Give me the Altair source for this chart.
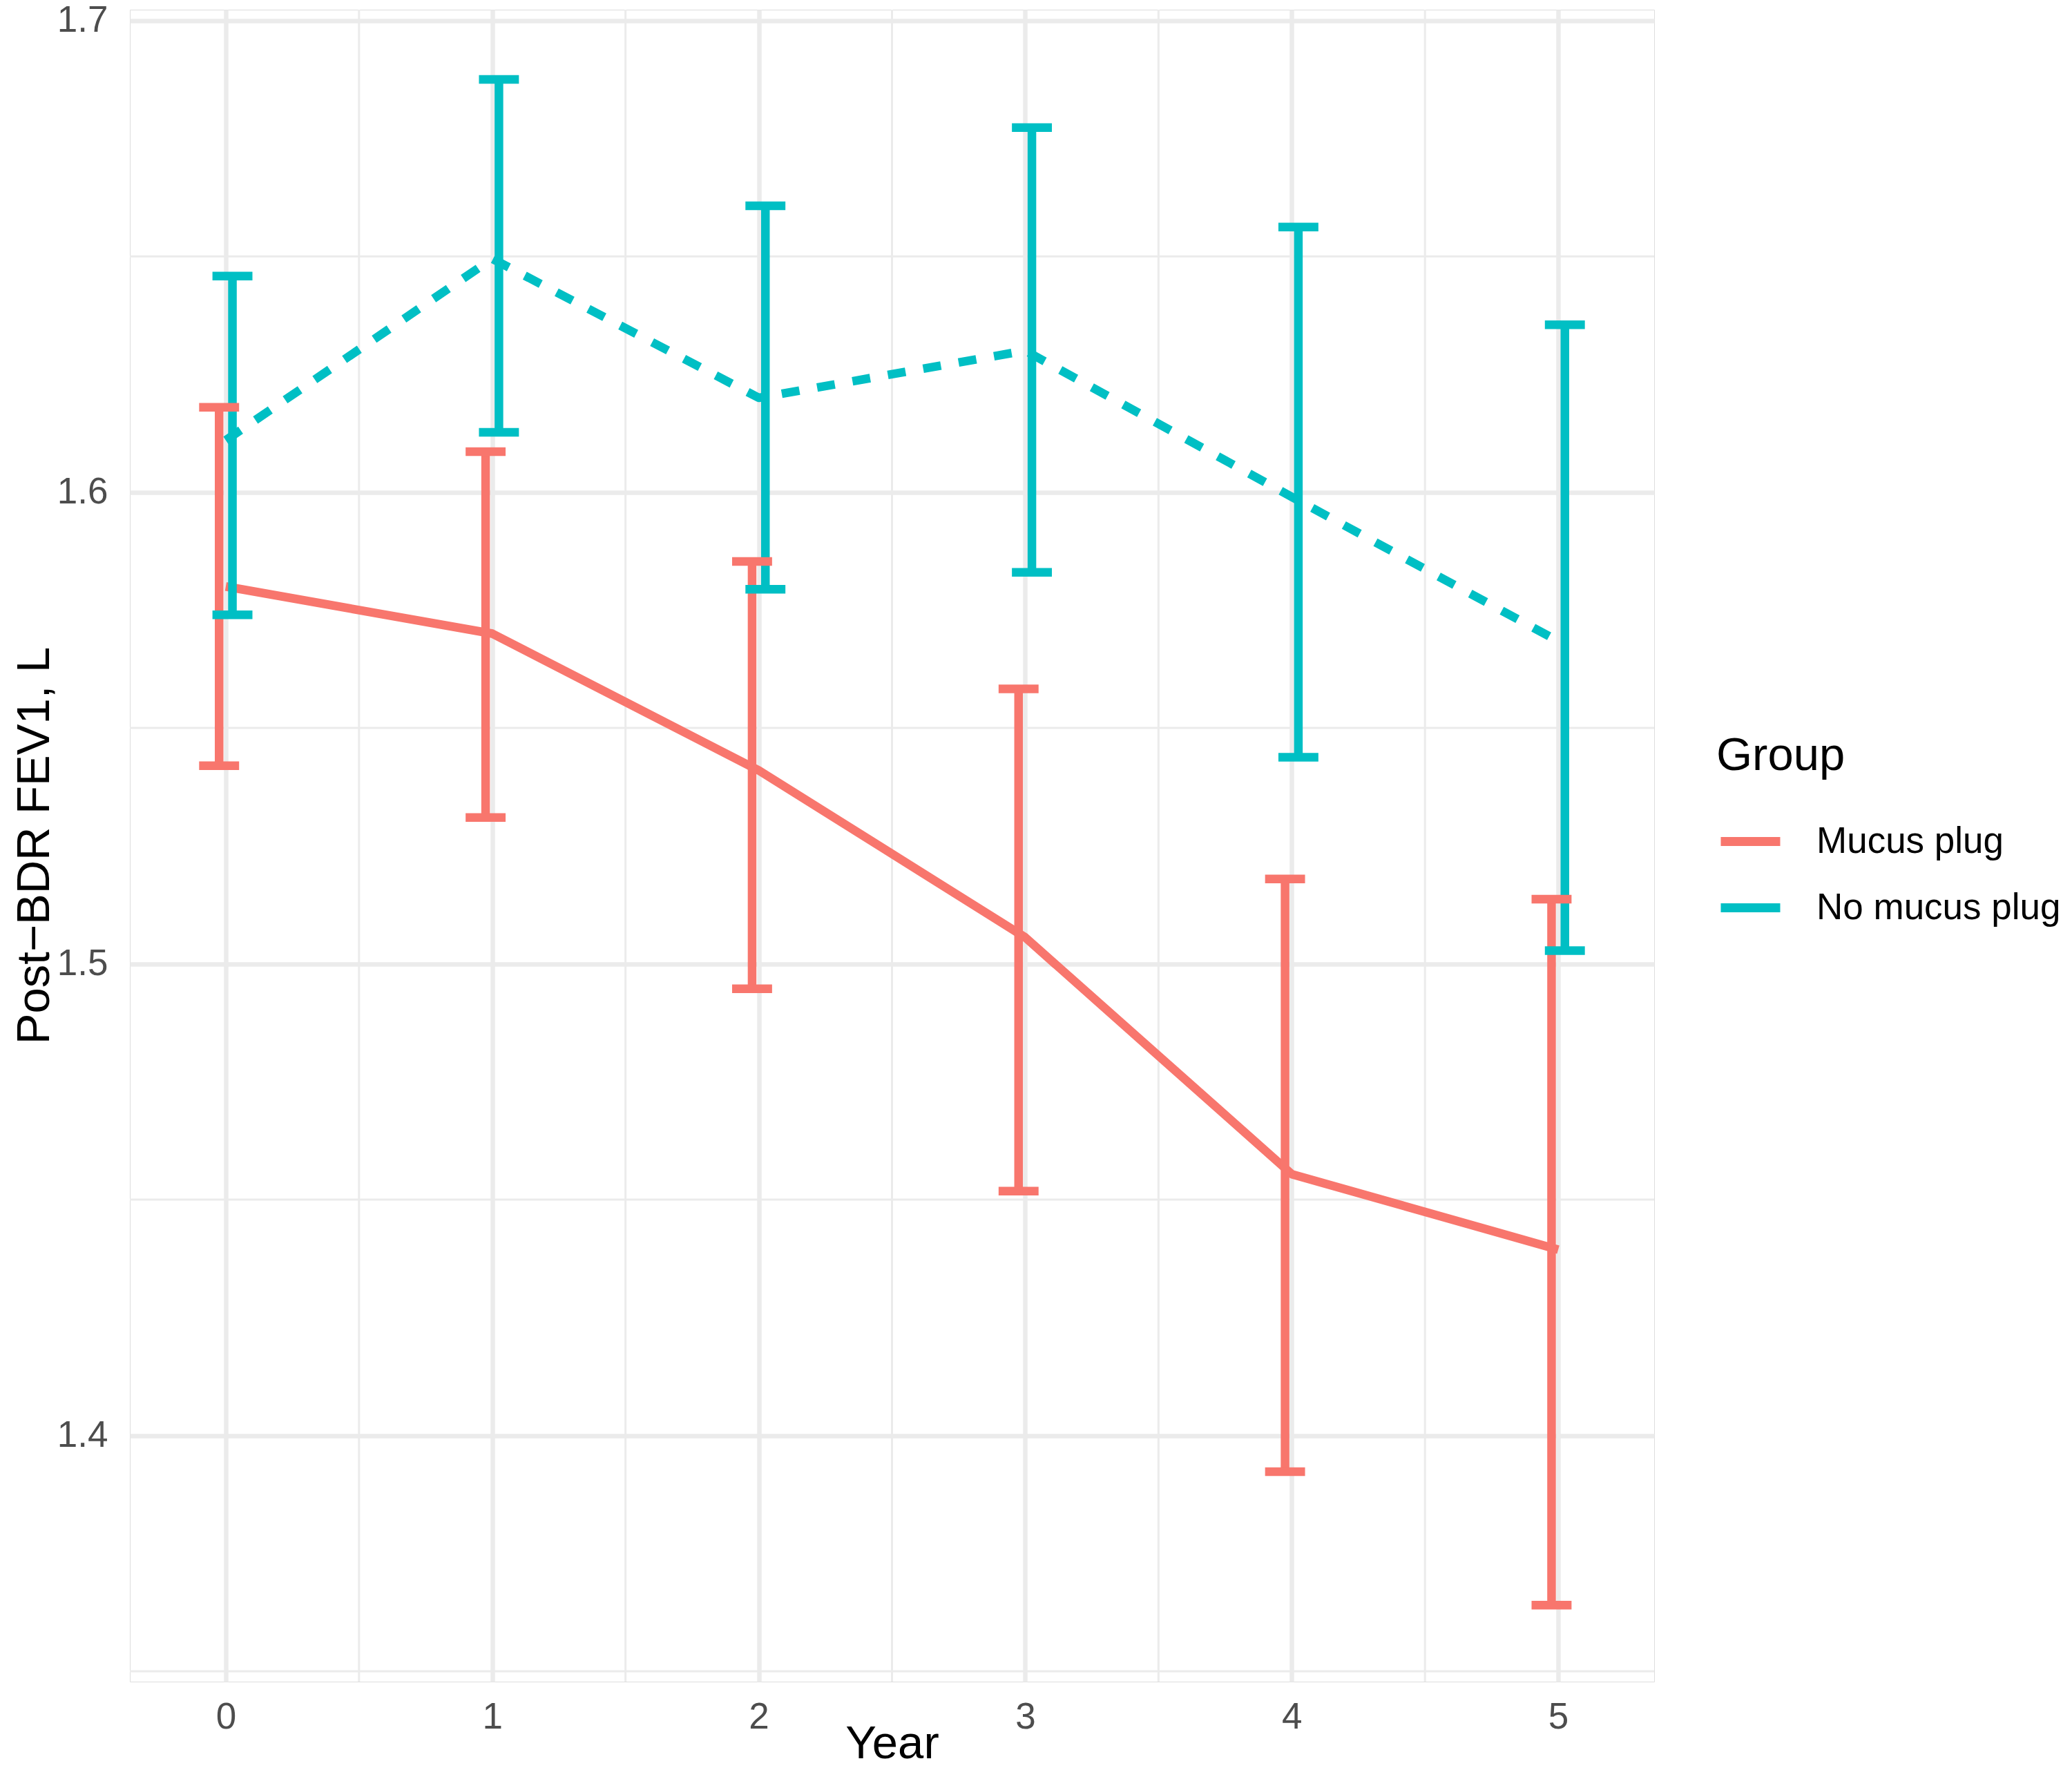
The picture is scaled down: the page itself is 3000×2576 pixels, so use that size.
import pandas as pd
import altair as alt

years = [0, 1, 2, 3, 4, 5]
groups = ["Mucus plug", "No mucus plug"]

mucus_mean = [1.580, 1.570, 1.541, 1.5056, 1.4554, 1.4394]
mucus_lo = [1.542, 1.531, 1.4947, 1.4518, 1.3923, 1.364]
mucus_hi = [1.618, 1.6086, 1.5853, 1.5583, 1.518, 1.5137]

nomucus_mean = [1.611, 1.6495, 1.620, 1.630, 1.599, 1.5684]
nomucus_lo = [1.574, 1.6127, 1.5794, 1.583, 1.5438, 1.5028]
nomucus_hi = [1.6458, 1.6875, 1.6607, 1.6773, 1.6562, 1.6355]

x_minor = [0.5, 1.5, 2.5, 3.5, 4.5]
y_minor = [1.35, 1.45, 1.55, 1.65]
y_ticks = [1.4, 1.5, 1.6, 1.7]

df = pd.concat([
    pd.DataFrame({"group": groups[0], "year": years, "mean": mucus_mean,
                  "lo": mucus_lo, "hi": mucus_hi}),
    pd.DataFrame({"group": groups[1], "year": years, "mean": nomucus_mean,
                  "lo": nomucus_lo, "hi": nomucus_hi}),
], ignore_index=True)

FONT = "Liberation Sans"
GRID = "#EBEBEB"
LW = 12.5

xscale = alt.Scale(domain=[-0.36, 5.36], nice=False, zero=False)
yscale = alt.Scale(domain=[1.3478, 1.7023], nice=False, zero=False)
cscale = alt.Scale(domain=groups, range=["#F8766D", "#00BFC4"])

# legend keys are plain solid strokes (linetype has no guide in the original)
color = alt.Color(
    "group:N",
    scale=cscale,
    legend=alt.Legend(
        title="Group", orient="none", legendX=2297, legendY=1048,
        titleFontSize=67, titleColor="black", titleFont=FONT,
        titleFontWeight="normal", titlePadding=40, titleLimit=2000,
        labelFontSize=53, labelColor="black", labelFont=FONT,
        labelLimit=2000, labelOffset=46, symbolType="stroke",
        symbolSize=7396, symbolStrokeWidth=13, symbolDash=[1, 0],
        rowPadding=19, padding=0,
    ),
)

x_axis = alt.Axis(
    values=years, format="d", title="Year", labelFontSize=53,
    labelColor="#4D4D4D", labelFont=FONT, labelPadding=25,
    ticks=False, tickSize=0, domain=False, grid=True,
    gridColor=GRID, gridWidth=6.5,
    titleFontSize=67, titleColor="black", titleFont=FONT,
    titleFontWeight="normal", titleBaseline="alphabetic", titleY=110,
)
y_axis = alt.Axis(
    values=y_ticks, format=".1f", title="Post\u2212BDR FEV1, L",
    labelFontSize=53, labelColor="#4D4D4D", labelFont=FONT,
    labelPadding=32, ticks=False, tickSize=0, domain=False, grid=True,
    gridColor=GRID, gridWidth=6.5,
    titleFontSize=67, titleColor="black", titleFont=FONT,
    titleFontWeight="normal", titleAngle=270, titleBaseline="alphabetic",
    titleAlign="center", titleX=-118, titleY=1210,
)

minor_v = alt.Chart(pd.DataFrame({"x": x_minor})).mark_rule(
    color=GRID, strokeWidth=3
).encode(x=alt.X("x:Q", scale=xscale, axis=x_axis))

minor_h = alt.Chart(pd.DataFrame({"y": y_minor})).mark_rule(
    color=GRID, strokeWidth=3
).encode(y=alt.Y("y:Q", scale=yscale, axis=y_axis))

base = alt.Chart(df)

line_enc = dict(
    x=alt.X("year:Q", scale=xscale, axis=x_axis),
    y=alt.Y("mean:Q", scale=yscale, axis=y_axis),
    color=color,
)
line_solid = base.transform_filter(
    alt.datum.group == groups[0]
).mark_line(strokeWidth=LW, strokeCap="butt", strokeJoin="round").encode(**line_enc)
line_dashed = base.transform_filter(
    alt.datum.group == groups[1]
).mark_line(strokeWidth=LW, strokeCap="butt", strokeJoin="round",
            strokeDash=[26, 26]).encode(**line_enc)

bars = base.transform_calculate(
    xd="datum.year + (datum.group == 'Mucus plug' ? -0.025 : 0.025)"
).transform_calculate(
    xl="datum.xd - 0.075", xr="datum.xd + 0.075"
)

stems = bars.mark_rule(strokeWidth=LW).encode(
    x=alt.X("xd:Q", scale=xscale, axis=x_axis),
    y=alt.Y("lo:Q", scale=yscale, axis=y_axis),
    y2="hi:Q",
    color=color,
)
cap_hi = bars.mark_rule(strokeWidth=LW).encode(
    x=alt.X("xl:Q", scale=xscale, axis=x_axis),
    x2="xr:Q",
    y=alt.Y("hi:Q", scale=yscale, axis=y_axis),
    color=color,
)
cap_lo = bars.mark_rule(strokeWidth=LW).encode(
    x=alt.X("xl:Q", scale=xscale, axis=x_axis),
    x2="xr:Q",
    y=alt.Y("lo:Q", scale=yscale, axis=y_axis),
    color=color,
)

errs = alt.layer(stems, cap_hi, cap_lo)

chart = alt.layer(minor_v, minor_h, line_solid, line_dashed, errs).properties(
    width=2207,
    height=2421,
    autosize=alt.AutoSizeParams(type="none"),
    padding={"left": 180, "top": 6, "right": 597, "bottom": 128},
).configure_view(
    strokeOpacity=0
).configure(
    font=FONT, background="white"
)

chart.save("out.html", embed_options={"renderer": "svg", "actions": False})
